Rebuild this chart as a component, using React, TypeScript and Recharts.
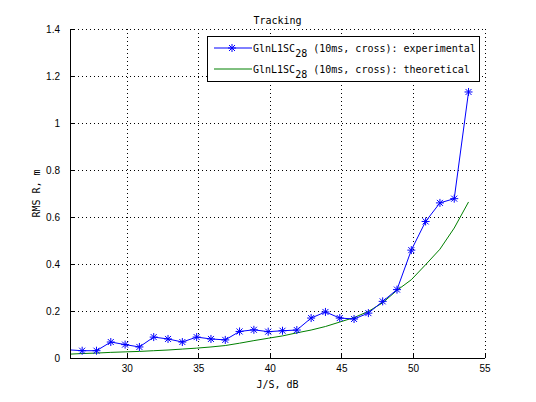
import { LineChart, Line, XAxis, YAxis, CartesianGrid, Label } from 'recharts';

// J/S values, dB (first point sits just left of the axis and gets clipped)
const jsDb = [
    25.85, 26.85, 27.85, 28.85, 29.85, 30.85, 31.85, 32.85, 33.85, 34.85,
    35.85, 36.85, 37.85, 38.85, 39.85, 40.85, 41.85, 42.85, 43.85, 44.85,
    45.85, 46.85, 47.85, 48.85, 49.85, 50.85, 51.85, 52.85, 53.85,
];

const experimental = [
    0.035, 0.031, 0.031, 0.068, 0.057, 0.047, 0.089, 0.081, 0.068, 0.089,
    0.081, 0.077, 0.113, 0.12, 0.112, 0.116, 0.119, 0.17, 0.196, 0.17,
    0.166, 0.191, 0.241, 0.291, 0.459, 0.581, 0.66, 0.678, 1.132,
];

const theoretical = [
    0.016, 0.019, 0.021, 0.024, 0.026, 0.028, 0.031, 0.034, 0.038, 0.042,
    0.047, 0.053, 0.063, 0.074, 0.084, 0.094, 0.107, 0.119, 0.134, 0.153,
    0.172, 0.198, 0.235, 0.288, 0.333, 0.397, 0.463, 0.553, 0.664,
];

const xTicks = [30, 35, 40, 45, 50, 55];
const yTicks = [0, 0.2, 0.4, 0.6, 0.8, 1, 1.2, 1.4];
const xDomain: [number, number] = [26, 55];
const yDomain: [number, number] = [0, 1.4];

const seriesNames = ['experimental', 'theoretical'];
const signalName = 'GlnL1SC';
const signalSub = '28';
const signalMode = '(10ms, cross)';

const BLUE = '#0000ff';
const GREEN = '#008000';
const MONO = '"DejaVu Sans Mono", monospace';
const TICK_FONT = '"Liberation Sans", Arial, sans-serif';

const data = jsDb.map((x, i) => ({ x, exp: experimental[i], theo: theoretical[i] }));

function StarMark({ cx, cy, color, r = 4 }: { cx: number; cy: number; color: string; r?: number }) {
    const d = r * 0.75;
    return (
        <g stroke={color} strokeWidth={1}>
            <line x1={cx - r} y1={cy} x2={cx + r} y2={cy} />
            <line x1={cx} y1={cy - r} x2={cx} y2={cy + r} />
            <line x1={cx - d} y1={cy - d} x2={cx + d} y2={cy + d} />
            <line x1={cx - d} y1={cy + d} x2={cx + d} y2={cy - d} />
        </g>
    );
}

const renderStar = (props: any) => {
    const { cx, cy, payload, index } = props;
    if (payload.x < xDomain[0] || cx == null) return <g key={`s-${index}`} />;
    return (
        <g key={`s-${index}`}>
            <StarMark cx={cx} cy={cy} color={BLUE} />
        </g>
    );
};

const XTick = (props: any) => {
    const { x, y, payload } = props;
    return (
        <g>
            <line x1={x} y1={y} x2={x} y2={y - 5} stroke="#000" shapeRendering="crispEdges" />
            <text x={x} y={y + 14} textAnchor="middle" fontFamily={TICK_FONT} fontSize={10} fill="#000">
                {String(payload.value)}
            </text>
        </g>
    );
};

const YTick = (props: any) => {
    const { x, y, payload } = props;
    return (
        <g>
            <line x1={x} y1={y} x2={x + 5} y2={y} stroke="#000" shapeRendering="crispEdges" />
            <text x={x - 10} y={y + 3.5} textAnchor="end" fontFamily={TICK_FONT} fontSize={10} fill="#000">
                {String(payload.value)}
            </text>
        </g>
    );
};

function LegendRow({ y, name, color, star }: { y: number; name: string; color: string; star: boolean }) {
    return (
        <g>
            <line x1={214} y1={y - 4} x2={252} y2={y - 4} stroke={color} strokeWidth={1} />
            {star && <StarMark cx={232} cy={y - 4} color={color} />}
            <text x={253} y={y} fontFamily={MONO} fontSize={10} fill="#000">
                {signalName}
                <tspan dy={5}>{signalSub}</tspan>
                <tspan dy={-5}>{` ${signalMode}: ${name}`}</tspan>
            </text>
        </g>
    );
}

export default function App() {
    return (
        <div style={{ position: 'absolute', left: 0, top: 0, width: 536, height: 402, background: '#fff' }}>
            <LineChart
                width={536}
                height={402}
                data={data}
                margin={{ top: 29, right: 51, bottom: 0, left: 0 }}
            >
                <CartesianGrid
                    stroke="#000"
                    strokeDasharray="1 3"
                    shapeRendering="crispEdges"
                    horizontalValues={yTicks}
                    verticalValues={xTicks}
                />
                <XAxis
                    dataKey="x"
                    type="number"
                    domain={xDomain}
                    ticks={xTicks}
                    allowDataOverflow
                    height={44}
                    tickSize={0}
                    tickMargin={0}
                    tickLine={false}
                    tick={<XTick />}
                    axisLine={{ stroke: '#000', shapeRendering: 'crispEdges' }}
                    interval={0}
                >
                    <Label
                        content={(p: any) => {
                            const vb = p.viewBox;
                            return (
                                <text x={vb.x + vb.width / 2} y={vb.y + 30} textAnchor="middle"
                                    fontFamily={MONO} fontSize={10} fill="#000">
                                    J/S, dB
                                </text>
                            );
                        }}
                    />
                </XAxis>
                <YAxis
                    type="number"
                    domain={yDomain}
                    ticks={yTicks}
                    allowDataOverflow
                    width={70}
                    tickSize={0}
                    tickMargin={0}
                    tickLine={false}
                    tick={<YTick />}
                    axisLine={{ stroke: '#000', shapeRendering: 'crispEdges' }}
                    interval={0}
                >
                    <Label
                        content={(p: any) => {
                            const vb = p.viewBox;
                            const cx = vb.x + 39.5;
                            const cy = vb.y + vb.height / 2;
                            return (
                                <text x={cx} y={cy} textAnchor="middle" transform={`rotate(-90, ${cx}, ${cy})`}
                                    fontFamily={MONO} fontSize={10} fill="#000">
                                    RMS R, m
                                </text>
                            );
                        }}
                    />
                </YAxis>
                <Line
                    dataKey="theo"
                    stroke={GREEN}
                    strokeWidth={1}
                    dot={false}
                    isAnimationActive={false}
                />
                <Line
                    dataKey="exp"
                    stroke={BLUE}
                    strokeWidth={1}
                    dot={renderStar}
                    activeDot={false}
                    isAnimationActive={false}
                />
            </LineChart>
            <svg width={536} height={402} style={{ position: 'absolute', left: 0, top: 0, pointerEvents: 'none' }}>
                <text x={277.5} y={24} textAnchor="middle" fontFamily={MONO} fontSize={10} fill="#000">
                    Tracking
                </text>
                <rect x={207.5} y={36.5} width={272} height={45} fill="#fff" stroke="#000" strokeWidth={1} />
                <LegendRow y={52} name={seriesNames[0]} color={BLUE} star />
                <LegendRow y={73} name={seriesNames[1]} color={GREEN} star={false} />
            </svg>
        </div>
    );
}
